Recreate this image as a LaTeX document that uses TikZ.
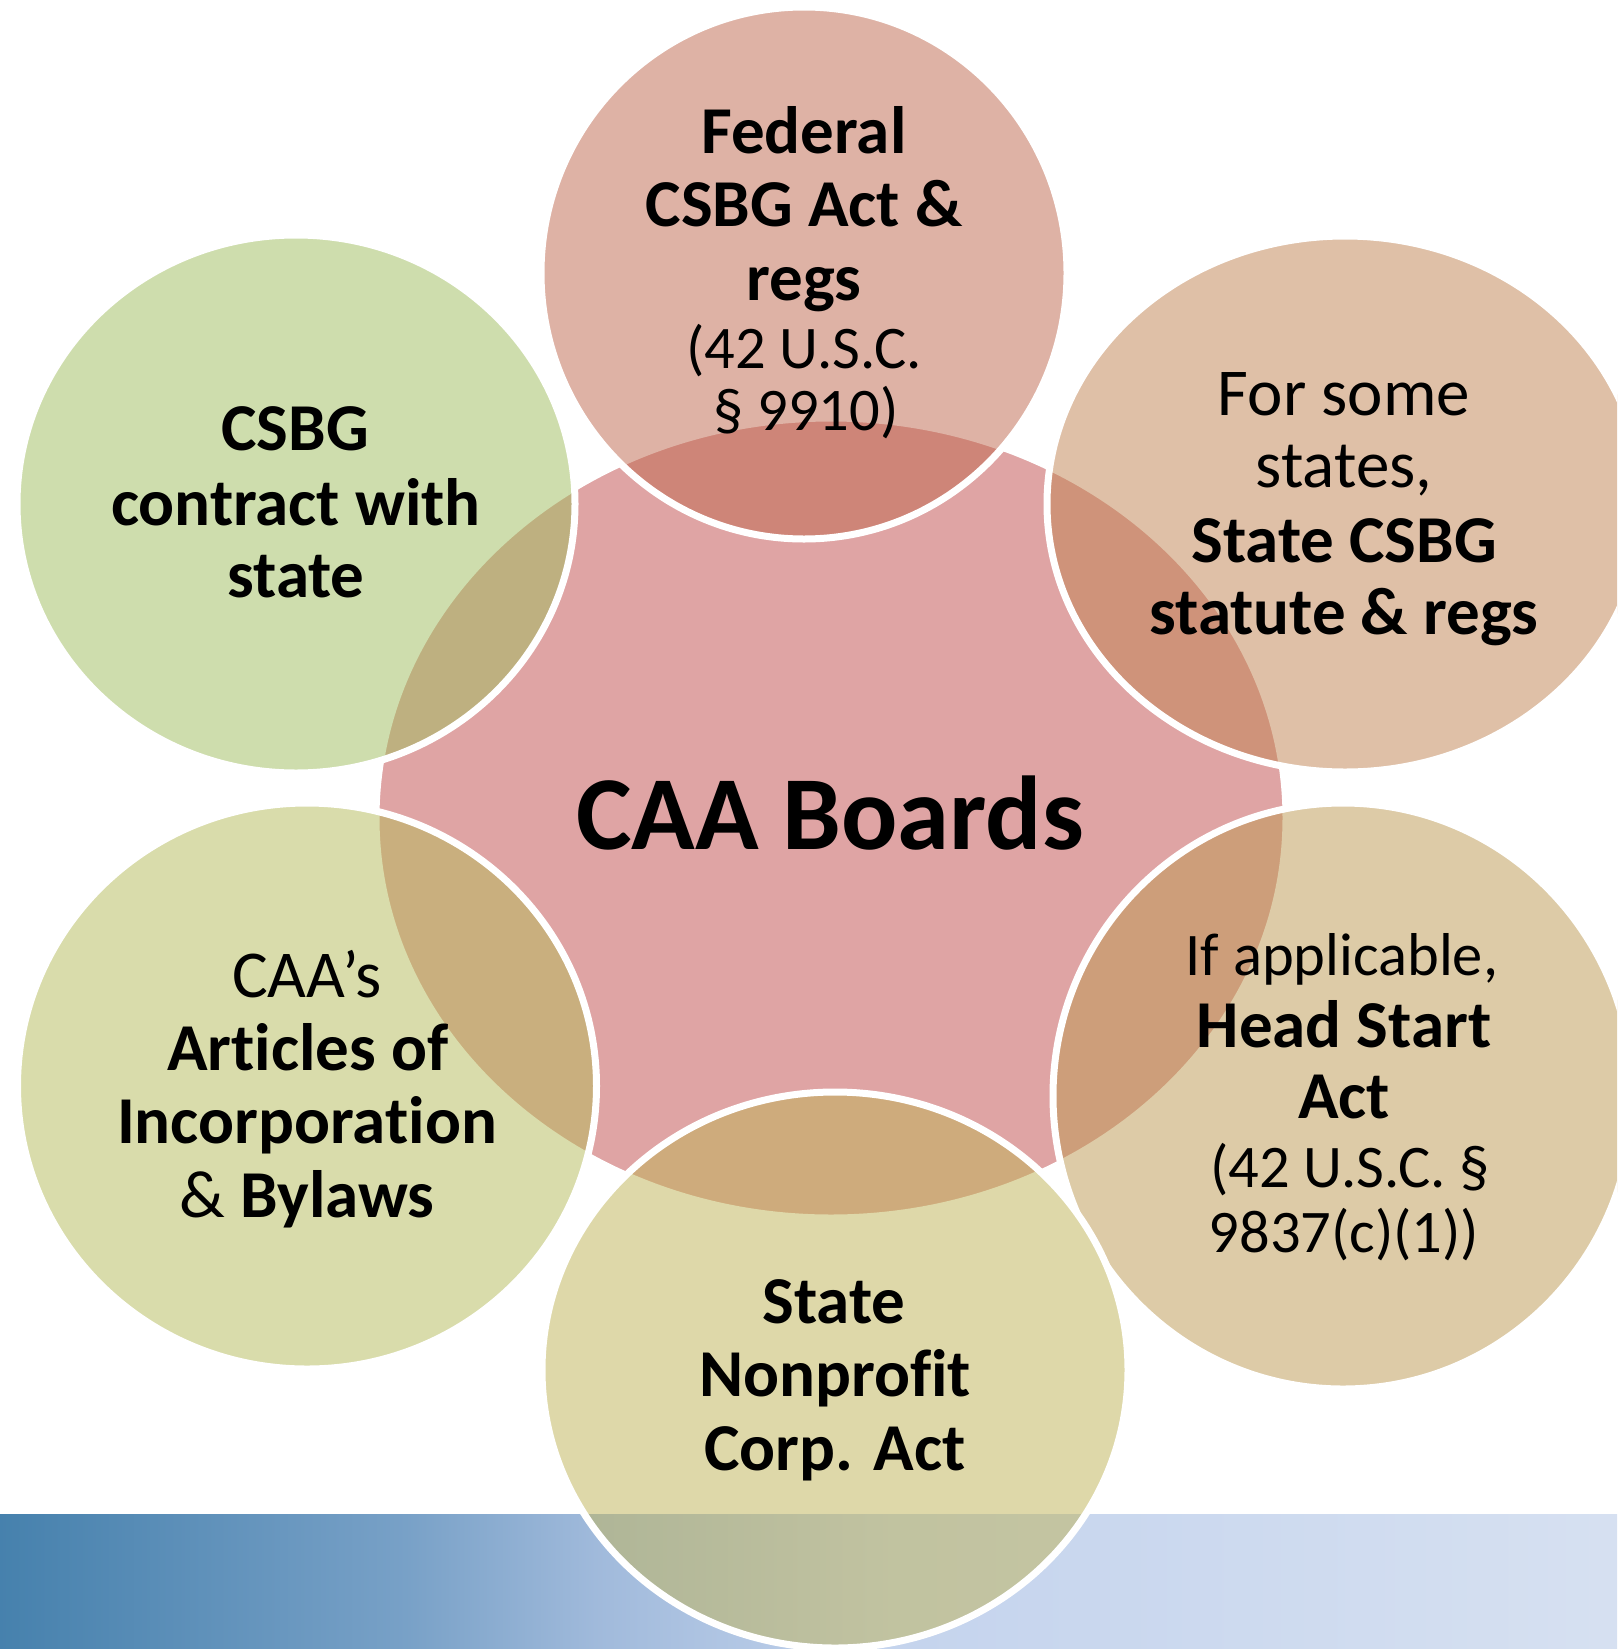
\documentclass[tikz,border=0pt]{standalone}
\usepackage{fontspec}
\setmainfont{Carlito}[Ligatures={NoCommon,NoContextual}]
\usetikzlibrary{shapes.geometric}

\definecolor{cHub}{RGB}{193,75,75}
\definecolor{cFed}{RGB}{191,103,77}
\definecolor{cStates}{RGB}{193,131,81}
\definecolor{cHead}{RGB}{189,153,81}
\definecolor{cNonprofit}{RGB}{191,179,85}
\definecolor{cArticles}{RGB}{181,187,89}
\definecolor{cContract}{RGB}{159,189,93}

\pgfdeclarehorizontalshading{bandshade}{100bp}{%
  rgb(0bp)=(0.275,0.506,0.678);
  rgb(25bp)=(0.275,0.506,0.678);
  rgb(37.5bp)=(0.47,0.63,0.78);
  rgb(43.5bp)=(0.63,0.73,0.86);
  rgb(52.5bp)=(0.77,0.83,0.93);
  rgb(75bp)=(0.84,0.88,0.945);
  rgb(100bp)=(0.84,0.88,0.945)}

\newcommand{\nolig}{\kern0pt{}}

\tikzset{
  bub/.style={ellipse, draw=white, line width=7pt, fill opacity=0.5, draw opacity=1, inner sep=0pt, outer sep=0pt},
  boldline/.style={font=\fontsize{67}{74}\selectfont\bfseries, anchor=base, inner sep=0pt, text=black},
  regline/.style={font=\fontsize{60.5}{66}\selectfont, anchor=base, inner sep=0pt, text=black},
  regbig/.style={font=\fontsize{67}{74}\selectfont, anchor=base, inner sep=0pt, text=black},
}

\begin{document}
\begin{tikzpicture}[x=1pt,y=-1pt]
\useasboundingbox (0,0) rectangle (1617,1649);
\fill[white] (0,0) rectangle (1617,1649);
\clip (0,0) rectangle (1617,1649);

% bottom band
\fill[shading=bandshade] (0,1514) rectangle (1617,1649);

% shapes
\node[bub, fill=cHub, minimum width=910pt, minimum height=800pt] (hub) at (831,818) {};
\node[bub, fill=cFed, minimum width=526pt, minimum height=532pt] (fed) at (804,273) {};
\node[bub, fill=cStates, minimum width=596pt, minimum height=536pt] (states) at (1345,504) {};
\node[bub, fill=cHead, minimum width=580pt, minimum height=586pt] (head) at (1343,1096) {};
\node[bub, fill=cNonprofit, minimum width=586pt, minimum height=556pt] (nonprofit) at (835,1370) {};
\node[bub, fill=cArticles, minimum width=579pt, minimum height=566pt] (articles) at (307,1086) {};
\node[bub, fill=cContract, minimum width=558pt, minimum height=538pt] (contract) at (296,504) {};

% hub text
\node[font=\fontsize{105}{114}\selectfont\bfseries, anchor=base, inner sep=0pt] (hubtxt) at (830,849) {CAA Boards};

% Federal
\node[boldline] (fedA) at (804,153) {Federal};
\node[boldline] (fedB) at (804,226) {CSBG Act \&};
\node[boldline] (fedC) at (804,300) {regs};
\node[regline] (fedD) at (804,368) {(42 U.S.C.};
\node[regline] (fedE) at (806,430) {§ 9910)};

% States
\node[regbig] (stA) at (1344,415) {For some};
\node[regbig] (stB) at (1344,487) {states,};
\node[boldline] (stC) at (1344,562) {State CSBG};
\node[boldline] (stD) at (1344,634) {statute \& regs};

% Head Start
\node[regline] (hsA) at (1342,975) {If applicable,};
\node[boldline] (hsB) at (1344,1047) {Head Start};
\node[boldline] (hsC) at (1344,1118) {Act};
\node[regline] (hsD) at (1350,1187) {(42 U.S.C. §};
\node[regline] (hsE) at (1344,1252) {9837(c)(1))};

% Nonprofit
\node[boldline] (npA) at (834,1323) {State};
\node[boldline] (npB) at (835,1396) {Nonprof\nolig it};
\node[boldline] (npC) at (835,1470) {Corp. Act};

% Articles
\node[regbig] (arA) at (307,997) {CAA’s};
\node[boldline] (arB) at (308,1070) {Art\nolig icles of};
\node[boldline] (arC) at (307,1143) {Incorporat\nolig ion};
\node[boldline] (arD) at (307,1217) {{\mdseries\&} Bylaws};

% Contract
\node[boldline] (ctA) at (295,450) {CSBG};
\node[boldline] (ctB) at (296,525) {contract with};
\node[boldline] (ctC) at (296,597) {state};
\end{tikzpicture}
\end{document}
